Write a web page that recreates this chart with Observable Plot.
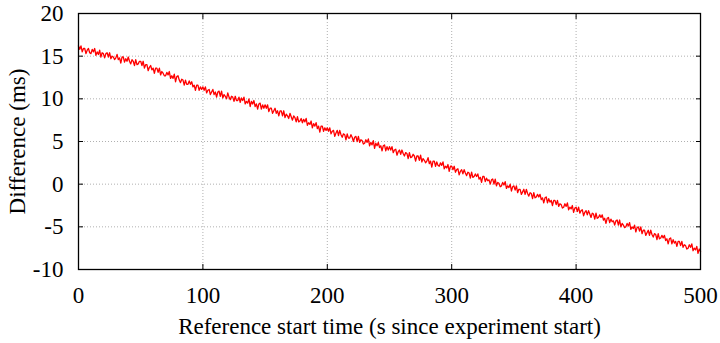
<!DOCTYPE html>
<html>
<head>
<meta charset="utf-8">
<script src="https://cdn.jsdelivr.net/npm/d3@7"></script>
<script src="https://cdn.jsdelivr.net/npm/@observablehq/plot@0.6"></script>
<style>
  html, body { margin: 0; padding: 0; background: #fff; }
  #chart svg { background: #fff; color: #000; overflow: visible; }
  #chart svg, #chart svg text {
    font-family: "Liberation Serif", "Times New Roman", serif !important;
    font-size: 23px !important;
  }
</style>
</head>
<body>
<div id="chart"></div>
<script>
// Sample times (s since experiment start), one every second
const times = d3.range(0, 501, 1);
// Difference (ms) (10 samples per row)
const diffs = [
  16.2, 15.8, 16.2, 15.5, 15.9, 15.9, 15.3, 15.7, 15.9, 15.4,
  15.3, 15.8, 15.5, 15.9, 15.1, 15.5, 15.2, 15.7, 14.9, 15.4,
  15.3, 14.8, 15.3, 15.4, 14.9, 15.4, 14.7, 15.0, 14.9, 14.6,
  14.8, 15.2, 14.6, 14.8, 14.2, 14.9, 14.9, 14.3, 14.7, 14.4,
  14.9, 14.4, 14.1, 14.6, 14.4, 13.9, 14.6, 14.0, 14.1, 14.4,
  14.4, 13.9, 14.4, 13.6, 14.0, 14.0, 13.3, 13.7, 13.9, 13.4,
  13.6, 13.0, 13.6, 13.6, 13.1, 13.6, 12.8, 13.2, 13.0, 12.7,
  12.7, 13.1, 12.8, 13.2, 12.4, 12.7, 12.4, 12.9, 12.0, 12.6,
  12.7, 12.2, 11.9, 12.3, 12.2, 11.6, 12.2, 11.7, 11.7, 12.1,
  11.7, 12.0, 11.4, 11.6, 11.0, 11.6, 11.6, 11.0, 11.4, 11.1,
  11.4, 11.0, 11.4, 10.7, 11.0, 11.1, 10.5, 10.8, 11.1, 10.5,
  10.8, 10.2, 10.8, 10.9, 10.3, 10.9, 10.1, 10.5, 10.3, 10.0,
  10.7, 10.2, 9.9, 10.3, 10.2, 9.7, 10.3, 9.8, 9.8, 10.2,
  9.6, 10.1, 9.8, 10.2, 9.4, 9.7, 9.5, 10.0, 9.1, 9.7,
  9.4, 9.8, 9.1, 9.4, 8.8, 9.4, 9.5, 8.8, 9.3, 8.9,
  9.3, 8.9, 9.3, 8.5, 8.9, 8.9, 8.3, 8.6, 8.9, 8.3,
  8.6, 8.0, 8.6, 8.6, 8.0, 8.6, 7.8, 8.2, 8.0, 7.7,
  8.3, 7.9, 7.5, 8.0, 7.8, 7.3, 7.9, 7.3, 7.4, 7.7,
  7.2, 7.6, 7.3, 7.7, 6.9, 7.2, 7.0, 7.4, 6.6, 7.1,
  6.8, 7.2, 6.5, 6.8, 6.1, 6.8, 6.8, 6.2, 6.6, 6.3,
  6.6, 6.2, 6.6, 5.9, 6.2, 6.3, 5.6, 6.0, 6.3, 5.7,
  6.3, 5.8, 5.5, 5.9, 5.8, 5.2, 5.9, 5.4, 5.4, 5.8,
  5.5, 5.0, 5.5, 5.6, 5.0, 5.6, 4.9, 5.2, 5.1, 4.7,
  4.8, 5.2, 4.9, 5.3, 4.5, 4.9, 4.6, 5.1, 4.2, 4.8,
  4.5, 4.9, 4.3, 4.5, 3.9, 4.5, 4.6, 3.9, 4.4, 4.0,
  4.4, 4.0, 4.4, 3.7, 4.0, 4.1, 3.4, 3.8, 4.0, 3.5,
  4.0, 3.6, 3.3, 3.7, 3.6, 3.0, 3.7, 3.1, 3.2, 3.5,
  3.3, 2.7, 3.3, 3.3, 2.8, 3.4, 2.6, 3.0, 2.8, 2.5,
  2.7, 3.1, 2.4, 2.7, 2.0, 2.7, 2.7, 2.1, 2.6, 2.2,
  2.1, 2.5, 2.2, 2.6, 1.8, 2.1, 1.9, 2.3, 1.5, 2.1,
  2.1, 1.7, 2.1, 1.4, 1.7, 1.8, 1.1, 1.5, 1.7, 1.2,
  1.7, 1.3, 1.0, 1.4, 1.3, 0.7, 1.4, 0.8, 0.9, 1.2,
  0.9, 1.2, 0.6, 0.8, 0.2, 0.9, 0.9, 0.3, 0.7, 0.4,
  0.5, 0.0, 0.5, 0.6, 0.0, 0.6, -0.2, 0.2, 0.1, -0.3,
  -0.2, 0.2, -0.1, 0.3, -0.5, -0.2, -0.4, 0.0, -0.8, -0.3,
  -0.2, -0.7, -0.2, -1.0, -0.6, -0.6, -1.2, -0.9, -0.6, -1.2,
  -0.6, -1.1, -1.4, -1.0, -1.1, -1.7, -1.0, -1.6, -1.5, -1.2,
  -1.5, -1.2, -1.8, -1.6, -2.2, -1.6, -1.5, -2.2, -1.7, -2.1,
  -1.9, -2.5, -1.9, -1.9, -2.4, -1.9, -2.6, -2.3, -2.4, -2.8,
  -2.7, -2.3, -2.6, -2.2, -3.0, -2.7, -2.9, -2.5, -3.3, -2.8,
  -2.7, -3.2, -2.7, -3.4, -3.1, -3.0, -3.7, -3.3, -3.1, -3.6,
  -3.1, -3.5, -3.9, -3.4, -3.5, -4.1, -3.4, -4.0, -3.9, -3.6,
  -3.9, -3.6, -4.2, -4.0, -4.6, -4.0, -3.9, -4.5, -4.1, -4.4,
  -4.3, -4.8, -4.3, -4.2, -4.8, -4.2, -5.0, -4.6, -4.8, -5.1,
  -5.0, -4.6, -4.9, -4.5, -5.3, -5.0, -5.2, -4.8, -5.6, -5.1,
  -5.0, -5.5, -5.0, -5.8, -5.4, -5.4, -6.0, -5.7, -5.4, -6.0,
  -5.4, -5.9, -6.2, -5.8, -5.9, -6.5, -5.8, -6.4, -6.3, -6.0,
  -6.3, -6.0, -6.6, -6.4, -7.0, -6.4, -6.3, -7.0, -6.5, -6.9,
  -6.7, -7.3, -6.7, -6.7, -7.2, -6.7, -7.4, -7.1, -7.2, -7.6,
  -7.5, -7.1, -7.4, -7.0, -7.8, -7.5, -7.7, -7.3, -8.1, -7.6,
  -7.9
];
const xTicks = [0, 100, 200, 300, 400, 500];
const yTicks = [-10, -5, 0, 5, 10, 15, 20];
const xLabel = "Reference start time (s since experiment start)";
const yLabel = "Difference (ms)";

const data = times.map((t, i) => ({t, d: diffs[i]}));

const blank = () => "";
const plain = (d) => String(d);

const chart = Plot.plot({
  width: 720,
  height: 343,
  marginLeft: 78,
  marginRight: 20,
  marginTop: 13,
  marginBottom: 74,
  x: {domain: [0, 500]},
  y: {domain: [-10, 20]},
  marks: [
    Plot.gridX(xTicks, {stroke: "#b0b0b0", strokeOpacity: 1, strokeDasharray: "1,2"}),
    Plot.gridY(yTicks, {stroke: "#b0b0b0", strokeOpacity: 1, strokeDasharray: "1,2"}),
    Plot.line(data, {x: "t", y: "d", stroke: "#ff0000", strokeWidth: 1.3}),
    Plot.frame({stroke: "#000", strokeWidth: 1.3}),
    // inward tick marks on all four sides
    Plot.axisX(xTicks, {anchor: "bottom", tickSize: 5, dy: -5, tickFormat: blank, label: null}),
    Plot.axisX(xTicks, {anchor: "top", tickSize: 5, dy: 5, tickFormat: blank, label: null}),
    Plot.axisY(yTicks, {anchor: "left", tickSize: 5, dx: 5, tickFormat: blank, label: null}),
    Plot.axisY(yTicks, {anchor: "right", tickSize: 5, dx: -5, tickFormat: blank, label: null}),
    // tick labels and titles
    Plot.axisX(xTicks, {anchor: "bottom", tickSize: 0, tickPadding: 17, tickFormat: plain, label: xLabel, labelAnchor: "center", labelOffset: 64, labelArrow: "none"}),
    Plot.axisY(yTicks, {anchor: "left", tickSize: 0, tickPadding: 15, tickFormat: plain, label: yLabel, labelAnchor: "center", labelOffset: 70, labelArrow: "none"})
  ]
});
document.getElementById("chart").appendChild(chart);
</script>
</body>
</html>
